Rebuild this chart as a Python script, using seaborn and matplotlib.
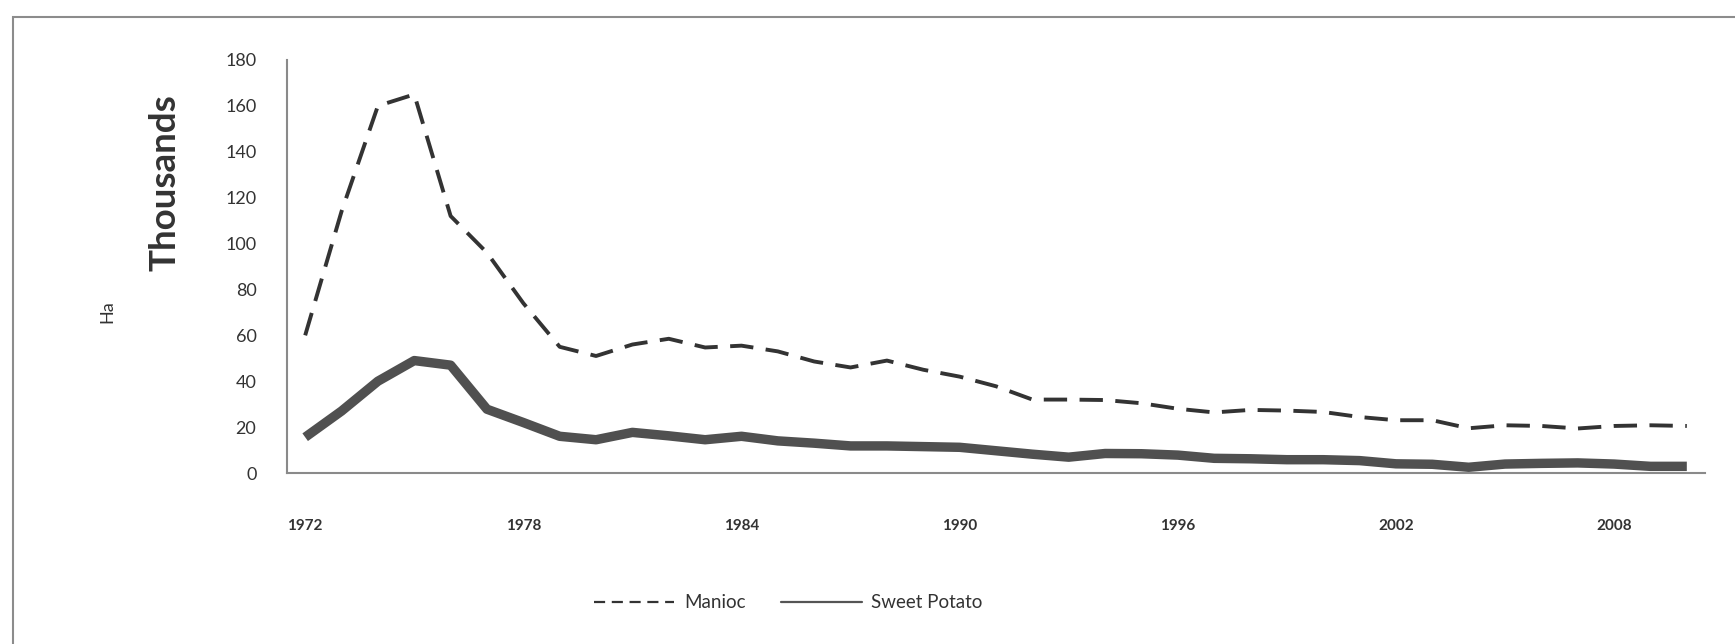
import matplotlib
matplotlib.use("Agg")
import matplotlib.pyplot as plt
import seaborn as sns
import pandas as pd
from matplotlib.patches import Rectangle
from matplotlib.lines import Line2D

years = list(range(1972, 2011))
manioc = [60, 114, 160, 165, 112, 96, 74, 55, 51, 56, 58.5, 54.7, 55.5, 53, 48.6, 46,
          49, 45, 42, 37.8, 32, 32, 31.8, 30.4, 28, 26.4, 27.5, 27.2, 26.6, 24.4, 23,
          23, 19.5, 20.8, 20.5, 19.4, 20.5, 20.8, 20.5]
sweet_potato = [15.6, 27, 40, 49, 47, 27.8, 22, 16, 14.5, 17.7, 16.2, 14.5, 16, 14, 13,
                11.8, 11.8, 11.5, 11.2, 9.7, 8.2, 6.9, 8.5, 8.4, 7.8, 6.4, 6.2, 5.8, 5.8,
                5.4, 4.0, 3.8, 2.5, 3.9, 4.2, 4.4, 3.9, 2.9, 2.9]
series_names = ["Manioc", "Sweet Potato"]
xtick_labels = [1972, 1978, 1984, 1990, 1996, 2002, 2008]
yticks = list(range(0, 181, 20))

df = pd.DataFrame({"Year": years, "Manioc": manioc, "Sweet Potato": sweet_potato})

sns.set_style("white")
plt.rcParams["font.family"] = ["Lato", "DejaVu Sans"]

W, H = 1735, 644
fig = plt.figure(figsize=(W / 100, H / 100), dpi=100)
ax = fig.add_axes([287 / W, 1 - 473 / H, (1705 - 287) / W, (473 - 60) / H])

sns.lineplot(data=df, x="Year", y="Manioc", ax=ax, color="#333333", lw=2.8,
             linestyle=(0, (6, 3.2)), label="Manioc", legend=False)
sns.lineplot(data=df, x="Year", y="Sweet Potato", ax=ax, color="#505050", lw=6.8,
             label="Sweet Potato", legend=False, solid_capstyle="butt")

ax.set_xlim(1971.5, 2010.5)
ax.set_ylim(0, 180)
ax.set_xticks(xtick_labels)
ax.set_xticklabels([str(v) for v in xtick_labels], fontsize=11, fontweight="bold",
                   color="#333333")
ax.set_yticks(yticks)
ax.set_yticklabels([str(v) for v in yticks], fontsize=13, color="#333333")
ax.tick_params(axis="x", length=0, pad=33)
ax.tick_params(axis="y", length=0, pad=22)
ax.set_xlabel("")
ax.set_ylabel("")

for s in ["top", "right"]:
    ax.spines[s].set_visible(False)
for s in ["left", "bottom"]:
    ax.spines[s].set_color("#8a8a8a")
    ax.spines[s].set_linewidth(1.5)

fig.text(165 / W, 1 - 183 / H, "Thousands", rotation=90, ha="center", va="center",
         fontsize=26.5, fontweight="bold", color="#333333")
fig.text(107 / W, 1 - 312 / H, "Ha", rotation=90, ha="center", va="center",
         fontsize=13, color="#333333")

handles = [Line2D([], [], color="#333333", lw=1.6, linestyle=(0, (5, 3))),
           Line2D([], [], color="#555555", lw=1.6)]
fig.legend(handles, series_names, loc="center", bbox_to_anchor=(788 / W, 1 - 603 / H),
           ncol=2, frameon=False, fontsize=13.5, handlelength=4.3, handletextpad=0.5,
           columnspacing=1.9, labelcolor="#333333")

fig.patches.append(Rectangle((13 / W, -0.05), 1.1, (1 - 17 / H) + 0.05,
                             transform=fig.transFigure, fill=False,
                             edgecolor="#8c8c8c", lw=1.5))

fig.savefig("out.png", dpi=100, facecolor="white")
